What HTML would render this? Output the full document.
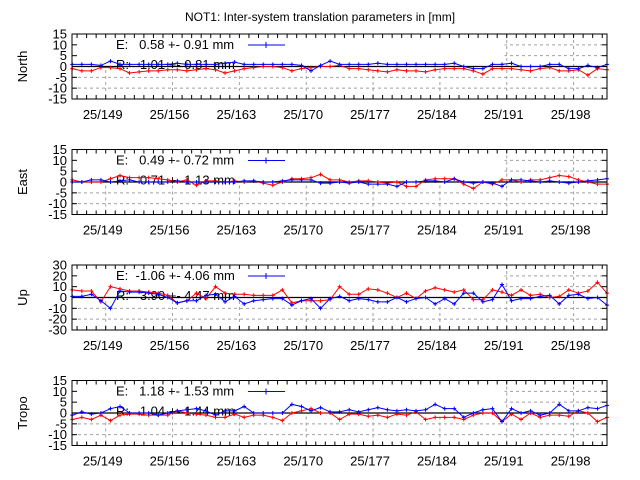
<!DOCTYPE html>
<html><head><meta charset="utf-8">
<style>
body{margin:0;background:#fff;}
svg{display:block;font-family:"Liberation Sans",sans-serif;}
.pre{white-space:pre;}
</style></head>
<body>
<svg id="chart" width="640" height="480" xmlns="http://www.w3.org/2000/svg">
<rect width="640" height="480" fill="#fff"/>
<text x="320" y="21" font-size="12" text-anchor="middle">NOT1: Inter-system translation parameters in [mm]</text>
</svg>
<script>
const panelNames = ["North","East","Up","Tropo"];
const yTickLabels = [[-15,-10,-5,0,5,10,15],[-15,-10,-5,0,5,10,15],[-30,-20,-10,0,10,20,30],[-15,-10,-5,0,5,10,15]];
const xTickDays = [149,156,163,170,177,184,191,198];
const xTickLabels = ["25/149","25/156","25/163","25/170","25/177","25/184","25/191","25/198"];
const keyE = ["E:   0.58 +- 0.91 mm","E:   0.49 +- 0.72 mm","E:  -1.06 +- 4.06 mm","E:   1.18 +- 1.53 mm"];
const keyR = ["R:   1.01 +- 0.81 mm","R:   0.71 +- 1.13 mm","R:   3.90 +- 4.47 mm","R:   1.04 +- 1.44 mm"];
const northE = [1,1,1,0.5,2.5,1,1,1,1,1,1,1.5,1,1,1,1,1.5,2,1,1,1,1,1,1,0.5,-2,0.5,2.5,1,1,1,1,1.5,1,1,1,1,1,1,1,1.5,0,-1,-1,1,1,1.5,0,0,0,1,1,-1,-1,0.5,-0.5,1];
const northR = [-1,-2,-2,-0.5,-0.5,-1,-3,-2.5,-2,-2,-1.5,-1.5,-2,-1.5,-1,-1.5,-3,-2,-1,-0.5,0,0,-0.5,-2,-1,-0.5,0,0,0.5,-1,-1,-1.5,-2,-2.5,-1.5,-2,-2,-2.5,-1.5,-1,-1,-1,-2,-3.5,-1,-1,-1,-1.5,-2,-1,-0.5,-2,-2,-1.5,-4,-1,-1.5];
const eastE = [0,0,1,1,0,0.5,1,0,0,0,0,0.5,0,0,0,0,0,0,0.5,0.5,0,0,0.5,1,1,1,-0.5,-0.5,0,-0.5,0,-1,-1,-1,-2,0,0,0.5,0.5,0,1.5,0,-0.5,0,-0.5,-2,1,1,0.5,0,0.5,0,-0.5,0,0.5,1,1.5];
const eastR = [1,0,0,0,1.5,3,2,2,2,1.5,1,0,1,-1.5,0.5,0.5,0,0.5,0,0.5,-0.5,-1.5,0,1.5,1.5,2,3.5,1,1,0,0.5,0.5,0,-0.5,0,-2,-2,1,1.5,1.5,1.5,-1,-3,0,-1,1,1,0,1,1,2,3,2.5,1,0,-1,-1];
const upE = [1,1,3,-3,-10,6,5,5,4,3,0,-5,-3,-3,2,3,-4,1,-6,-3,-2,-1,-1,-7,-3,-1,-10,-1,1,-3,-1,-2,-4,-4,0,-4,-1,0,-6,-1,-6,4,4,-4,-2,12,-3,-1,-1,1,2,-6,2,3,-1,0,-7];
const upR = [7,6,6,-4,10,8,6,6,5,4,2,-5,-3,4,-1,10,4,3,3,2,2,2,7,-5,-3,-3,-3,-2,10,3,3,8,7,4,0,4,-1,6,9,7,5,7,-2,-2,7,5,2,7,2,3,0,1,7,4,6,14,4];
const tropoE = [-1,0.5,-0.5,0,2,3,0,0,0,-1,0,1,1.5,2,1,-1,1,1,3,0,0,0,0,4,3,1,2.5,0.5,0.5,1.5,0.5,1.5,2.5,1.5,1,1.5,1,1.5,4,2,2,-2,0,1.5,2,-4,2,0,1,-1,0,4,1,1,2.5,2,3.5];
const tropoR = [-3,-2,-3,-1,-3.5,-1,-0.5,-0.5,-1,-1,-1,1,0,-0.5,-1,-2,-2,-0.5,-2,-1,-1,-2,-3.5,0,1,2,0,0,-3,-0.5,-0.5,-1.5,-1,-2,-0.5,-1,0.5,-3,-2,-2,-2,-3,-1,0,0,-4,-0.5,-3,0,-2,-1,-1,-1.5,1,0,-4,-2];
const seriesE = [northE,eastE,upE,tropoE];
const seriesR = [northR,eastR,upR,tropoR];
const firstDay = 145.5;

const svg = document.getElementById('chart');
const NS = "http://www.w3.org/2000/svg";
const X0=72, X1=607, D0=145.47, D1=201.5;
const xs = d => X0 + (d-D0)/(D1-D0)*(X1-X0);
function mk(tag, attrs, parent){const e=document.createElementNS(NS,tag);for(const k in attrs)e.setAttribute(k,attrs[k]);(parent||svg).appendChild(e);return e;}

panelNames.forEach((pn,p)=>{
  const top = 34 + p*115.5, bot = top+65;
  const ticks = yTickLabels[p];
  const ymin = ticks[0], ymax = ticks[ticks.length-1];
  const ys = v => bot - (v-ymin)/(ymax-ymin)*(bot-top);
  const g = mk('g',{});
  
  
  ticks.forEach(t=>{ if(t!==ymin && t!==ymax && t!==0){
    const l=mk('line',{x1:X0,x2:X1,y1:ys(t),y2:ys(t),stroke:'#a0a0a0','stroke-dasharray':'3,3','stroke-width':1},g);
     }});
  xTickDays.forEach(d=>{
    const l=mk('line',{x1:xs(d),x2:xs(d),y1:top,y2:bot,stroke:'#a0a0a0','stroke-dasharray':'3,3','stroke-width':1},g);
     });
  const kb=mk('rect',{x:X0+0.5,y:top+0.5,width:504-X0,height:ys(0)-top-1,fill:'#fff'},g);
   
  const z=mk('line',{x1:X0,x2:X1,y1:ys(0),y2:ys(0),stroke:'#000','stroke-width':1.2},g);
   
  for(let d=146; d<=201; d++){
    [[bot,bot-4],[top,top+4]].forEach(([a,b])=>{mk('line',{x1:xs(d),x2:xs(d),y1:a,y2:b,stroke:'#000'},g);});
  }
  ticks.forEach(t=>{
    mk('line',{x1:X0,x2:X0+5,y1:ys(t),y2:ys(t),stroke:'#000'},g);
    mk('line',{x1:X1,x2:X1-5,y1:ys(t),y2:ys(t),stroke:'#000'},g);
    const tx=mk('text',{x:67,y:ys(t)+4.5,'font-size':13,'text-anchor':'end'},g);
    tx.textContent=t;
     
  });
  xTickDays.forEach((d,i)=>{
    const tx=mk('text',{x:xs(d)-3,y:bot+20,'font-size':13,'text-anchor':'middle'},g);
    tx.textContent=xTickLabels[i];
     
  });
  const yl=mk('text',{x:0,y:0,'font-size':13,'text-anchor':'middle',transform:`translate(27,${(top+bot)/2}) rotate(-90)`},g);
  yl.textContent=pn;
   
  const ke=mk('text',{x:116,y:top+15,'font-size':13,'class':'pre'},g);
  ke.textContent=keyE[p];
   
  const kr=mk('text',{x:116,y:top+35,'font-size':13,'class':'pre'},g);
  kr.textContent=keyR[p];
   
  mk('line',{x1:248,x2:285,y1:top+11,y2:top+11,stroke:'#0000ff'},g);
  mk('path',{d:`M263,${top+11}h6M266,${top+8}v6`,stroke:'#0000ff'},g);
  [[seriesR[p],'#ff0000','series-r'],[seriesE[p],'#0000ff','series-e']].forEach(([arr,col,nm])=>{
    const pts=arr.map((v,i)=>[xs(firstDay+i),ys(v)]);
    const pl=mk('polyline',{points:pts.map(q=>q.join(',')).join(' '),fill:'none',stroke:col,'stroke-width':1},g);
     
    let d='';pts.forEach(([x,y])=>{d+=`M${x-2},${y}h4M${x},${y-2}v4`;});
    const mp=mk('path',{d:d,stroke:col,'stroke-width':1},g);
     
  });
  const fr=mk('rect',{x:X0,y:top,width:X1-X0,height:bot-top,fill:'none',stroke:'#000','stroke-width':1},g);
   
});
</script>
</body></html>
